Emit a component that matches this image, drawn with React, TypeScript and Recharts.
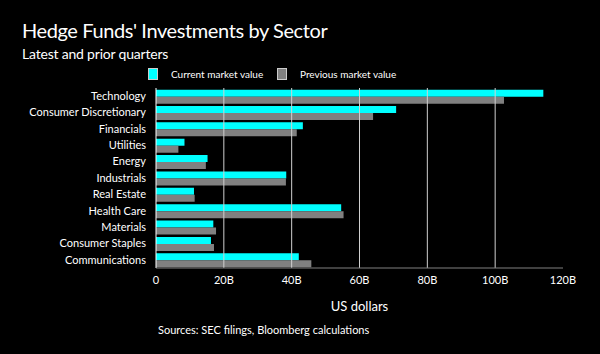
import React from 'react';
import { BarChart, Bar, XAxis, YAxis, ReferenceLine } from 'recharts';

const sectors = [
  'Technology',
  'Consumer Discretionary',
  'Financials',
  'Utilities',
  'Energy',
  'Industrials',
  'Real Estate',
  'Health Care',
  'Materials',
  'Consumer Staples',
  'Communications',
];
const currentValues = [114.2, 70.8, 43.3, 8.4, 15.2, 38.4, 11.2, 54.6, 16.9, 16.2, 42.1];
const previousValues = [102.6, 64.0, 41.5, 6.6, 14.7, 38.3, 11.4, 55.3, 17.7, 17.1, 45.8];
const xTicks = [0, 20, 40, 60, 80, 100, 120];
const gridValues = [20, 40, 60, 80, 100];

const data = sectors.map((s, i) => ({ sector: s, current: currentValues[i], previous: previousValues[i] }));

const FONT = 'Lato, "Noto Sans", sans-serif';
const CYAN = '#00ffff';
const GRAY = '#808080';

const LegendSwatch = ({ color, label, left }: { color: string; label: string; left: number }) => (
  <div style={{ position: 'absolute', left, top: 68, display: 'flex', alignItems: 'center' }}>
    <div style={{ width: 10, height: 12, background: color, border: '1px solid #ccc', boxSizing: 'border-box' }} />
    <span style={{ marginLeft: 13, fontSize: 10, color: '#fff', fontFamily: FONT }}>{label}</span>
  </div>
);

const CategoryTick = (props: any) => {
  const { x, y, payload } = props;
  return (
    <text x={x} y={y} dy="0.35em" textAnchor="end" fill="#fff" fontSize={11} fontFamily={FONT}>
      {payload.value}
    </text>
  );
};

export default function App() {
  return (
    <div style={{ position: 'absolute', left: 0, top: 0, width: 600, height: 354, background: '#000', overflow: 'hidden' }}>
      <div style={{ position: 'absolute', left: 22, top: 18, fontSize: 20, letterSpacing: -0.4, color: '#fff', fontFamily: FONT, whiteSpace: 'nowrap' }}>
        Hedge Funds' Investments by Sector
      </div>
      <div style={{ position: 'absolute', left: 22, top: 45, fontSize: 14, letterSpacing: -0.2, color: '#fff', fontFamily: FONT, whiteSpace: 'nowrap' }}>
        Latest and prior quarters
      </div>
      <LegendSwatch color={CYAN} label="Current market value" left={148} />
      <LegendSwatch color={GRAY} label="Previous market value" left={277} />
      <div style={{ position: 'absolute', left: 0, top: 0 }}>
        <BarChart
          width={600}
          height={354}
          data={data}
          layout="vertical"
          margin={{ top: 88, right: 37, bottom: 56, left: 0 }}
          barCategoryGap="10%"
          barGap={0}
        >
          {gridValues.map((v) => (
            <ReferenceLine key={v} x={v} stroke="#d0d0d0" strokeWidth={1} />
          ))}
          <XAxis
            type="number"
            domain={[0, 120]}
            ticks={xTicks}
            tickFormatter={(v: number) => (v === 0 ? '0' : `${v}B`)}
            axisLine={{ stroke: GRAY }}
            tickLine={false}
            tick={{ fill: '#fff', fontSize: 11, fontFamily: FONT }}
            interval={0}
            label={{ value: 'US dollars', position: 'bottom', offset: 4, fill: '#fff', fontSize: 13, fontFamily: FONT }}
          />
          <YAxis
            type="category"
            dataKey="sector"
            width={156}
            axisLine={{ stroke: '#fff' }}
            tickLine={false}
            tickMargin={4}
            interval={0}
            tick={<CategoryTick />}
          />
          <Bar dataKey="current" name="Current market value" fill={CYAN} isAnimationActive={false} />
          <Bar dataKey="previous" name="Previous market value" fill={GRAY} isAnimationActive={false} />
        </BarChart>
      </div>
      <div style={{ position: 'absolute', left: 158, top: 323, fontSize: 11, color: '#fff', fontFamily: FONT, whiteSpace: 'nowrap' }}>
        Sources: SEC filings, Bloomberg calculations
      </div>
    </div>
  );
}
